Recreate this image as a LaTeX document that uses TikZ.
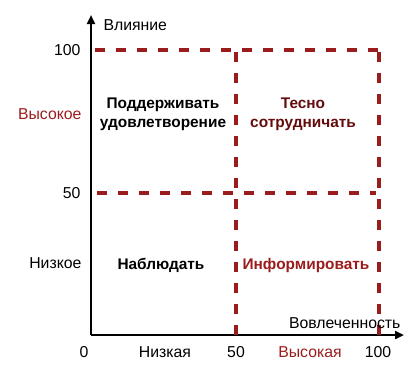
\documentclass[tikz,border=0pt]{standalone}
\usepackage{fontspec}
\setmainfont{Liberation Sans}
\usetikzlibrary{arrows.meta}

\definecolor{dred}{RGB}{155,28,28}
\definecolor{maroon}{RGB}{100,12,12}

\begin{document}
\begin{tikzpicture}[
    x=1pt, y=-1pt,
    axis/.style={line width=2.2pt, -{Triangle[length=9pt,width=8pt]}},
    grid/.style={dred, line width=4.5pt, dash pattern=on 10pt off 11pt},
    tick/.style={font=\fontsize{15.8}{18}\selectfont},
    quad/.style={font=\fontsize{15.4}{19}\bfseries\selectfont, align=center}
]
\useasboundingbox (0,0) rectangle (414,384);

% Axes
\coordinate (o) at (91,335);
\coordinate (ytop) at (91,15);
\coordinate (xend) at (404,335);
\draw[axis] (o) -- (ytop);
\draw[axis] (o) -- (xend);

% Grid
\coordinate (a) at (95,50);
\coordinate (b) at (379,50);
\coordinate (c) at (97,193);
\coordinate (d) at (376,193);
\coordinate (e) at (236,52);
\coordinate (f) at (236,335);
\coordinate (g) at (379,52);
\coordinate (h) at (379,335);
\draw[grid] (a) -- (b);
\draw[grid] (c) -- (d);
\draw[grid] (e) -- (f);
\draw[grid] (g) -- (h);

% Axis labels
\node[tick, anchor=west] (ylab) at (100,25) {Влияние};
\node[tick, anchor=east] (xlab) at (404,323) {Вовлеченность};
\node[tick, anchor=east] (y100) at (84,50) {100};
\node[tick, anchor=east] (y50) at (84,193) {50};
\node[tick, anchor=east, text=dred] (yhi) at (85,114) {Высокое};
\node[tick, anchor=east] (ylo) at (85,263) {Низкое};
\node[tick] (x0) at (84,352) {0};
\node[tick] (xlo) at (165,352) {Низкая};
\node[tick] (x50) at (236,352) {50};
\node[tick, text=dred] (xhi) at (310,352) {Высокая};
\node[tick] (x100) at (378,352) {100};

% Quadrants
\node[quad] (keep) at (163,114) {Поддерживать\\удовлетворение};
\node[quad, text=maroon] (close) at (303,114) {Тесно\\сотрудничать};
\node[quad] (watch) at (161,265) {Наблюдать};
\node[quad, text=dred] (inform) at (306,266) {Информировать};

\end{tikzpicture}
\end{document}
